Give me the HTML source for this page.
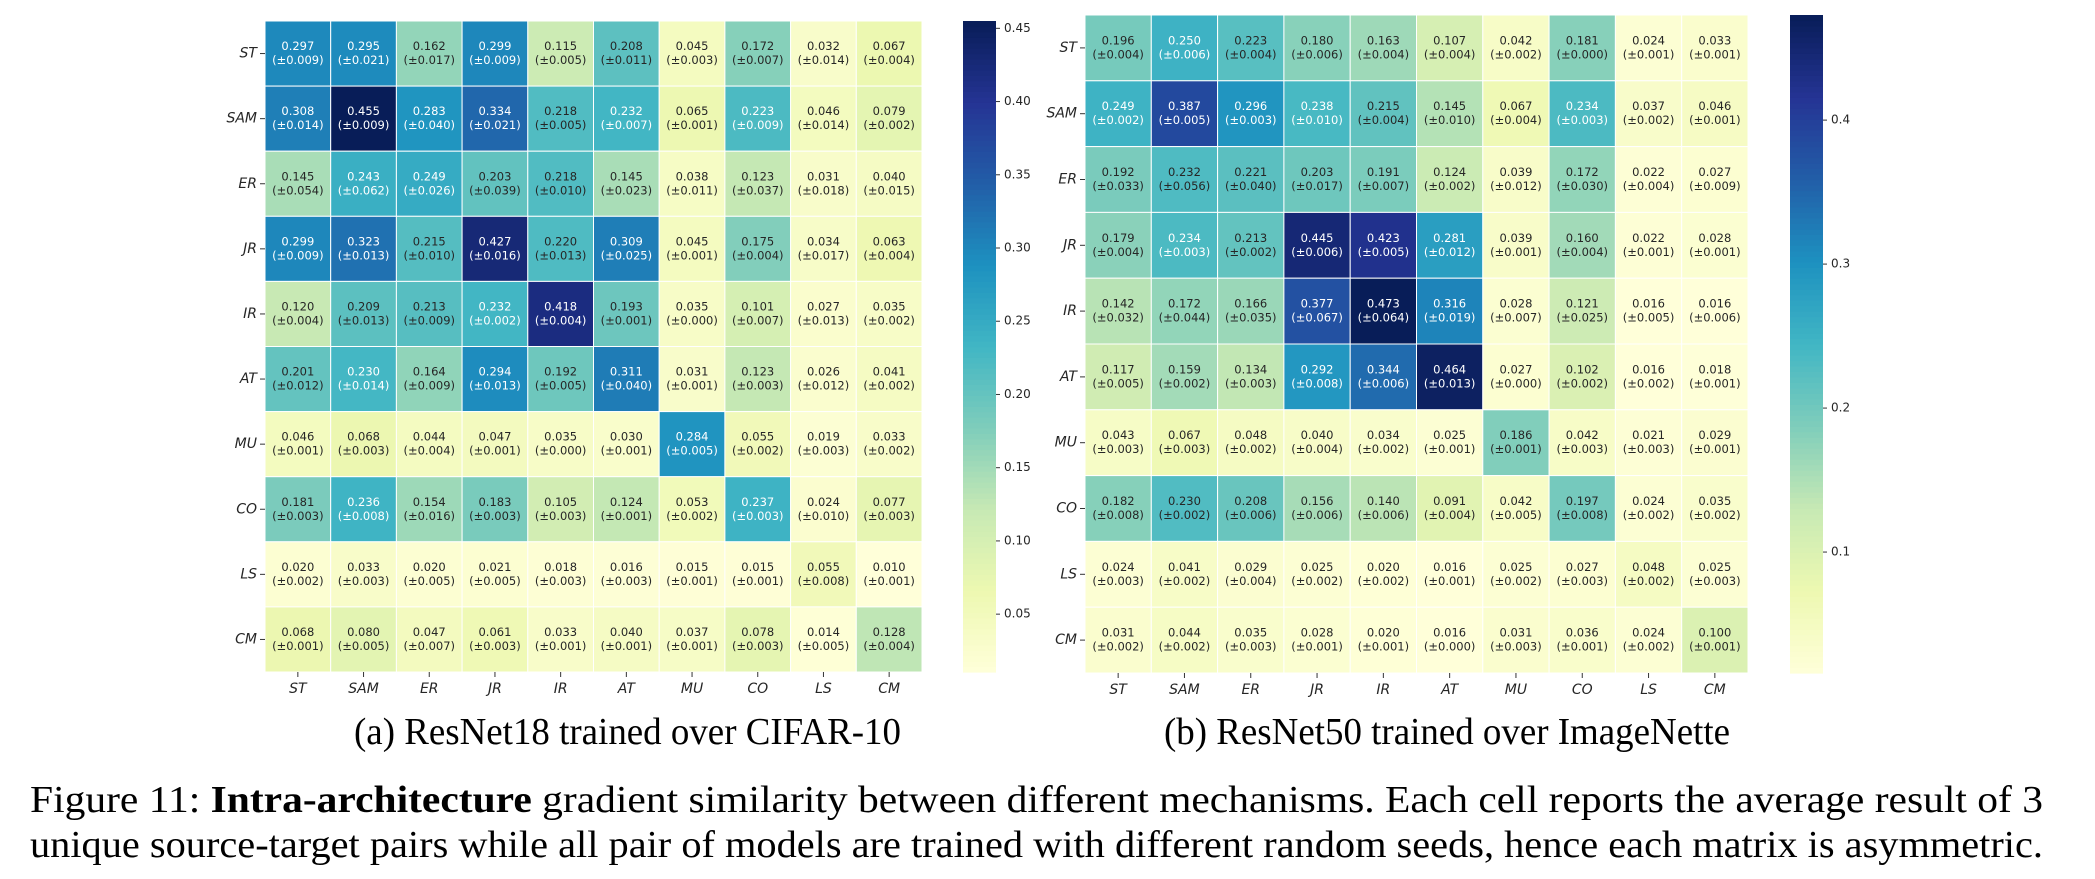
<!DOCTYPE html>
<html><head><meta charset="utf-8">
<style>
body{margin:0;background:#fff;width:2095px;height:879px;overflow:hidden;position:relative}
svg{position:absolute;left:0;top:0}
.cap{position:absolute;font-family:"Liberation Serif",serif;color:#000;white-space:nowrap;transform-origin:0 0}
</style></head><body>
<svg id="chart" width="2095" height="879" xmlns="http://www.w3.org/2000/svg"></svg>
<div class="cap" id="capa" data-w="547" style="left:354px;top:710px;font-size:38px">(a) ResNet18 trained over CIFAR-10</div>
<div class="cap" id="capb" data-w="566" style="left:1164px;top:710px;font-size:38px">(b) ResNet50 trained over ImageNette</div>
<div class="cap" id="cap1" data-w="2013" style="left:30px;top:778px;font-size:38px">Figure 11: <b>Intra-architecture</b> gradient similarity between different mechanisms. Each cell reports the average result of 3</div>
<div class="cap" id="cap2" data-w="2013" style="left:30px;top:823px;font-size:38px">unique source-target pairs while all pair of models are trained with different random seeds, hence each matrix is asymmetric.</div>
<script>
const labels=["ST","SAM","ER","JR","IR","AT","MU","CO","LS","CM"];
const meanA=[
[.297,.295,.162,.299,.115,.208,.045,.172,.032,.067],
[.308,.455,.283,.334,.218,.232,.065,.223,.046,.079],
[.145,.243,.249,.203,.218,.145,.038,.123,.031,.040],
[.299,.323,.215,.427,.220,.309,.045,.175,.034,.063],
[.120,.209,.213,.232,.418,.193,.035,.101,.027,.035],
[.201,.230,.164,.294,.192,.311,.031,.123,.026,.041],
[.046,.068,.044,.047,.035,.030,.284,.055,.019,.033],
[.181,.236,.154,.183,.105,.124,.053,.237,.024,.077],
[.020,.033,.020,.021,.018,.016,.015,.015,.055,.010],
[.068,.080,.047,.061,.033,.040,.037,.078,.014,.128]];
const stdA=[
[.009,.021,.017,.009,.005,.011,.003,.007,.014,.004],
[.014,.009,.040,.021,.005,.007,.001,.009,.014,.002],
[.054,.062,.026,.039,.010,.023,.011,.037,.018,.015],
[.009,.013,.010,.016,.013,.025,.001,.004,.017,.004],
[.004,.013,.009,.002,.004,.001,.000,.007,.013,.002],
[.012,.014,.009,.013,.005,.040,.001,.003,.012,.002],
[.001,.003,.004,.001,.000,.001,.005,.002,.003,.002],
[.003,.008,.016,.003,.003,.001,.002,.003,.010,.003],
[.002,.003,.005,.005,.003,.003,.001,.001,.008,.001],
[.001,.005,.007,.003,.001,.001,.001,.003,.005,.004]];
const meanB=[
[.196,.250,.223,.180,.163,.107,.042,.181,.024,.033],
[.249,.387,.296,.238,.215,.145,.067,.234,.037,.046],
[.192,.232,.221,.203,.191,.124,.039,.172,.022,.027],
[.179,.234,.213,.445,.423,.281,.039,.160,.022,.028],
[.142,.172,.166,.377,.473,.316,.028,.121,.016,.016],
[.117,.159,.134,.292,.344,.464,.027,.102,.016,.018],
[.043,.067,.048,.040,.034,.025,.186,.042,.021,.029],
[.182,.230,.208,.156,.140,.091,.042,.197,.024,.035],
[.024,.041,.029,.025,.020,.016,.025,.027,.048,.025],
[.031,.044,.035,.028,.020,.016,.031,.036,.024,.100]];
const stdB=[
[.004,.006,.004,.006,.004,.004,.002,.000,.001,.001],
[.002,.005,.003,.010,.004,.010,.004,.003,.002,.001],
[.033,.056,.040,.017,.007,.002,.012,.030,.004,.009],
[.004,.003,.002,.006,.005,.012,.001,.004,.001,.001],
[.032,.044,.035,.067,.064,.019,.007,.025,.005,.006],
[.005,.002,.003,.008,.006,.013,.000,.002,.002,.001],
[.003,.003,.002,.004,.002,.001,.001,.003,.003,.001],
[.008,.002,.006,.006,.006,.004,.005,.008,.002,.002],
[.003,.002,.004,.002,.002,.001,.002,.003,.002,.003],
[.002,.002,.003,.001,.001,.000,.003,.001,.002,.001]];
const ticksA=[0.05,0.10,0.15,0.20,0.25,0.30,0.35,0.40,0.45];
const ticksB=[0.1,0.2,0.3,0.4];

const NS="http://www.w3.org/2000/svg";
const svg=document.getElementById("chart");
const stops=["#ffffd9","#edf8b1","#c7e9b4","#7fcdbb","#41b6c4","#1d91c0","#225ea8","#253494","#081d58"].map(h=>[parseInt(h.slice(1,3),16),parseInt(h.slice(3,5),16),parseInt(h.slice(5,7),16)]);
function cmap(t){t=Math.max(0,Math.min(1,t));const p=t*(stops.length-1);const i=Math.min(Math.floor(p),stops.length-2);const f=p-i;
 return stops[i].map((c,k)=>Math.round(c+(stops[i+1][k]-c)*f));}
function lum(rgb){const c=rgb.map(v=>{v/=255;return v<=0.03928?v/12.92:Math.pow((v+0.055)/1.055,2.4)});return 0.2126*c[0]+0.7152*c[1]+0.0722*c[2];}
function el(tag,attrs,parent){const e=document.createElementNS(NS,tag);for(const k in attrs)e.setAttribute(k,attrs[k]);(parent||svg).appendChild(e);return e;}

function heatmap(cfg){
 const g=el("g",{});
 
 
 const n=labels.length,cw=(cfg.x1-cfg.x0)/n,ch=(cfg.y1-cfg.y0)/n;
 const xs=i=>cfg.x0+i*cw, ys=j=>cfg.y0+j*ch;
 const norm=v=>(v-cfg.vmin)/(cfg.vmax-cfg.vmin);
 cfg.mean.forEach((row,r)=>row.forEach((v,c)=>{
  const rgb=cmap(norm(v));
  const rect=el("rect",{x:xs(c),y:ys(r),width:cw,height:ch,fill:`rgb(${rgb})`,stroke:"#fff","stroke-width":1},g);
  
  
  const col=lum(rgb)>0.408?"#262626":"#ffffff";
  const t1=el("text",{x:xs(c)+cw/2,y:ys(r)+ch/2-7,"text-anchor":"middle","dominant-baseline":"middle","font-family":"DejaVu Sans, sans-serif","font-size":11.5,fill:col},g);
  t1.textContent=v.toFixed(3);
  
  
  const t2=el("text",{x:xs(c)+cw/2,y:ys(r)+ch/2+7,"text-anchor":"middle","dominant-baseline":"middle","font-family":"DejaVu Sans, sans-serif","font-size":11.5,fill:col},g);
  t2.textContent="(±"+cfg.std[r][c].toFixed(3)+")";
  
  
 }));
 labels.forEach((l,i)=>{
  const y=ys(i)+ch/2;
  el("line",{x1:cfg.x0-5,x2:cfg.x0,y1:y,y2:y,stroke:"#333","stroke-width":1},g);
  const t=el("text",{x:cfg.x0-8,y:y,"text-anchor":"end","dominant-baseline":"middle","font-family":"DejaVu Sans, sans-serif","font-style":"italic","font-size":14,fill:"#262626"},g);
  t.textContent=l;
  
  
  const x=xs(i)+cw/2;
  el("line",{x1:x,x2:x,y1:cfg.y1,y2:cfg.y1+5,stroke:"#333","stroke-width":1},g);
  const tx=el("text",{x:x,y:cfg.y1+17,"text-anchor":"middle","dominant-baseline":"middle","font-family":"DejaVu Sans, sans-serif","font-style":"italic","font-size":14,fill:"#262626"},g);
  tx.textContent=l;
  
  
 });
 const cb=el("g",{});
 
 
 const N=120,h=(cfg.y1-cfg.y0)/N;
 for(let k=0;k<N;k++){const rgb=cmap((k+0.5)/N);
  el("rect",{x:cfg.cbx,y:cfg.y1-(k+1)*h,width:cfg.cbw,height:h+0.6,fill:`rgb(${rgb})`},cb);}
 const cy=v=>cfg.y1-norm(v)*(cfg.y1-cfg.y0);
 cfg.ticks.forEach(v=>{
  const y=cy(v);
  el("line",{x1:cfg.cbx+cfg.cbw,x2:cfg.cbx+cfg.cbw+4,y1:y,y2:y,stroke:"#333","stroke-width":1},cb);
  const t=el("text",{x:cfg.cbx+cfg.cbw+8,y:y,"dominant-baseline":"middle","font-family":"DejaVu Sans, sans-serif","font-size":12,fill:"#262626"},cb);
  t.textContent=v.toFixed(cfg.dec);
  
  
 });
}
heatmap({name:"heatmap-resnet18",mean:meanA,std:stdA,x0:265,x1:922,y0:21,y1:672,vmin:0.0105,vmax:0.455,cbx:963,cbw:33,ticks:ticksA,dec:2});
heatmap({name:"heatmap-resnet50",mean:meanB,std:stdB,x0:1085,x1:1748,y0:15,y1:673,vmin:0.016,vmax:0.473,cbx:1790,cbw:33,ticks:ticksB,dec:1});

["capa","capb","cap1","cap2"].forEach(id=>{
 const d=document.getElementById(id);
 const target=+d.getAttribute("data-w");
 const w=d.getBoundingClientRect().width;
 d.style.transform="scaleX("+(target/w)+")";
});
</script>
</body></html>
